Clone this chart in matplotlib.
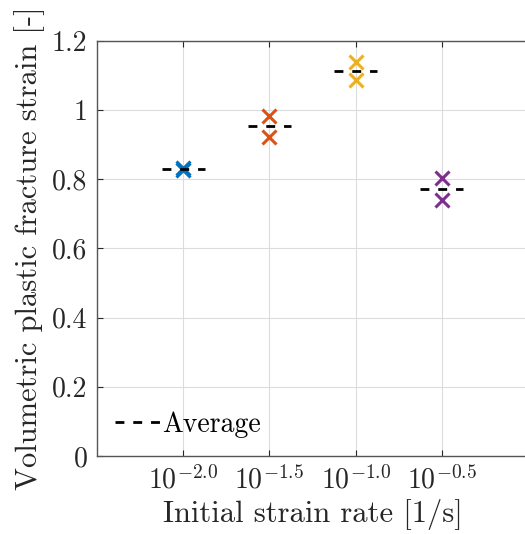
import numpy as np
import matplotlib
matplotlib.use("Agg")
import matplotlib.pyplot as plt
from matplotlib.ticker import FixedLocator, FixedFormatter

plt.rcParams['font.family'] = ['cmr10', 'DejaVu Serif']
plt.rcParams['mathtext.fontset'] = 'cm'
plt.rcParams['axes.unicode_minus'] = False

# strain rate exponents (log10 of 1/s) and measured fracture strains per rate
rate_exp = [-2.0, -1.5, -1.0, -0.5]
strain_a = [0.826, 0.983, 1.139, 0.803]
strain_b = [0.832, 0.923, 1.087, 0.740]
averages = [0.829, 0.953, 1.113, 0.772]
colors = ['#0072BD', '#D95319', '#EDB120', '#7E2F8E']
ytick_vals = [0, 0.2, 0.4, 0.6, 0.8, 1.0, 1.2]
ytick_labels = ['0', '0.2', '0.4', '0.6', '0.8', '1', '1.2']

fig = plt.figure(figsize=(5.25, 5.34), dpi=100)
ax = fig.add_axes([97/525, 1 - 456/534, (528 - 97)/525, (456 - 41)/534])

for i, e in enumerate(rate_exp):
    r = 10**e
    ax.plot([r, r], [strain_a[i], strain_b[i]], 'x', color=colors[i],
            markersize=9.5, markeredgewidth=2.2, zorder=3)
    half = 0.125  # half-width of the average bar in decades
    ax.plot([10**(e - half), 10**(e + half)], [averages[i], averages[i]], '--',
            color='k', lw=2, dashes=(3.2, 3.2), zorder=4,
            label='Average' if i == 0 else None)

ax.set_xscale('log')
ax.set_xlim(10**-2.5, 1)
ax.set_ylim(0, 1.2)
ax.xaxis.set_major_locator(FixedLocator([10**e for e in rate_exp]))
ax.xaxis.set_major_formatter(FixedFormatter([r'$10^{%.1f}$' % e for e in rate_exp]))
ax.xaxis.set_minor_locator(FixedLocator([]))
ax.set_yticks(ytick_vals)
ax.set_yticklabels(ytick_labels)

ax.grid(True, color='#dcdcdc', lw=0.8)
ax.set_axisbelow(True)
ax.tick_params(direction='in', length=4, width=0.8, colors='#262626',
               labelsize=20, top=True, right=False, pad=7)
for s in ax.spines.values():
    s.set_color('#555555')
    s.set_linewidth(1.0)
ax.spines['right'].set_visible(False)

ax.set_xlabel('Initial strain rate [1/s]', fontsize=22, color='#262626', labelpad=3)
ax.set_ylabel('Volumetric plastic fracture strain [-]', fontsize=22, color='#262626', labelpad=5)

leg = ax.legend(loc='lower left', frameon=False, fontsize=20, handlelength=1.6,
                handletextpad=0.1, borderaxespad=0.25)

fig.savefig('out.png', dpi=100)
